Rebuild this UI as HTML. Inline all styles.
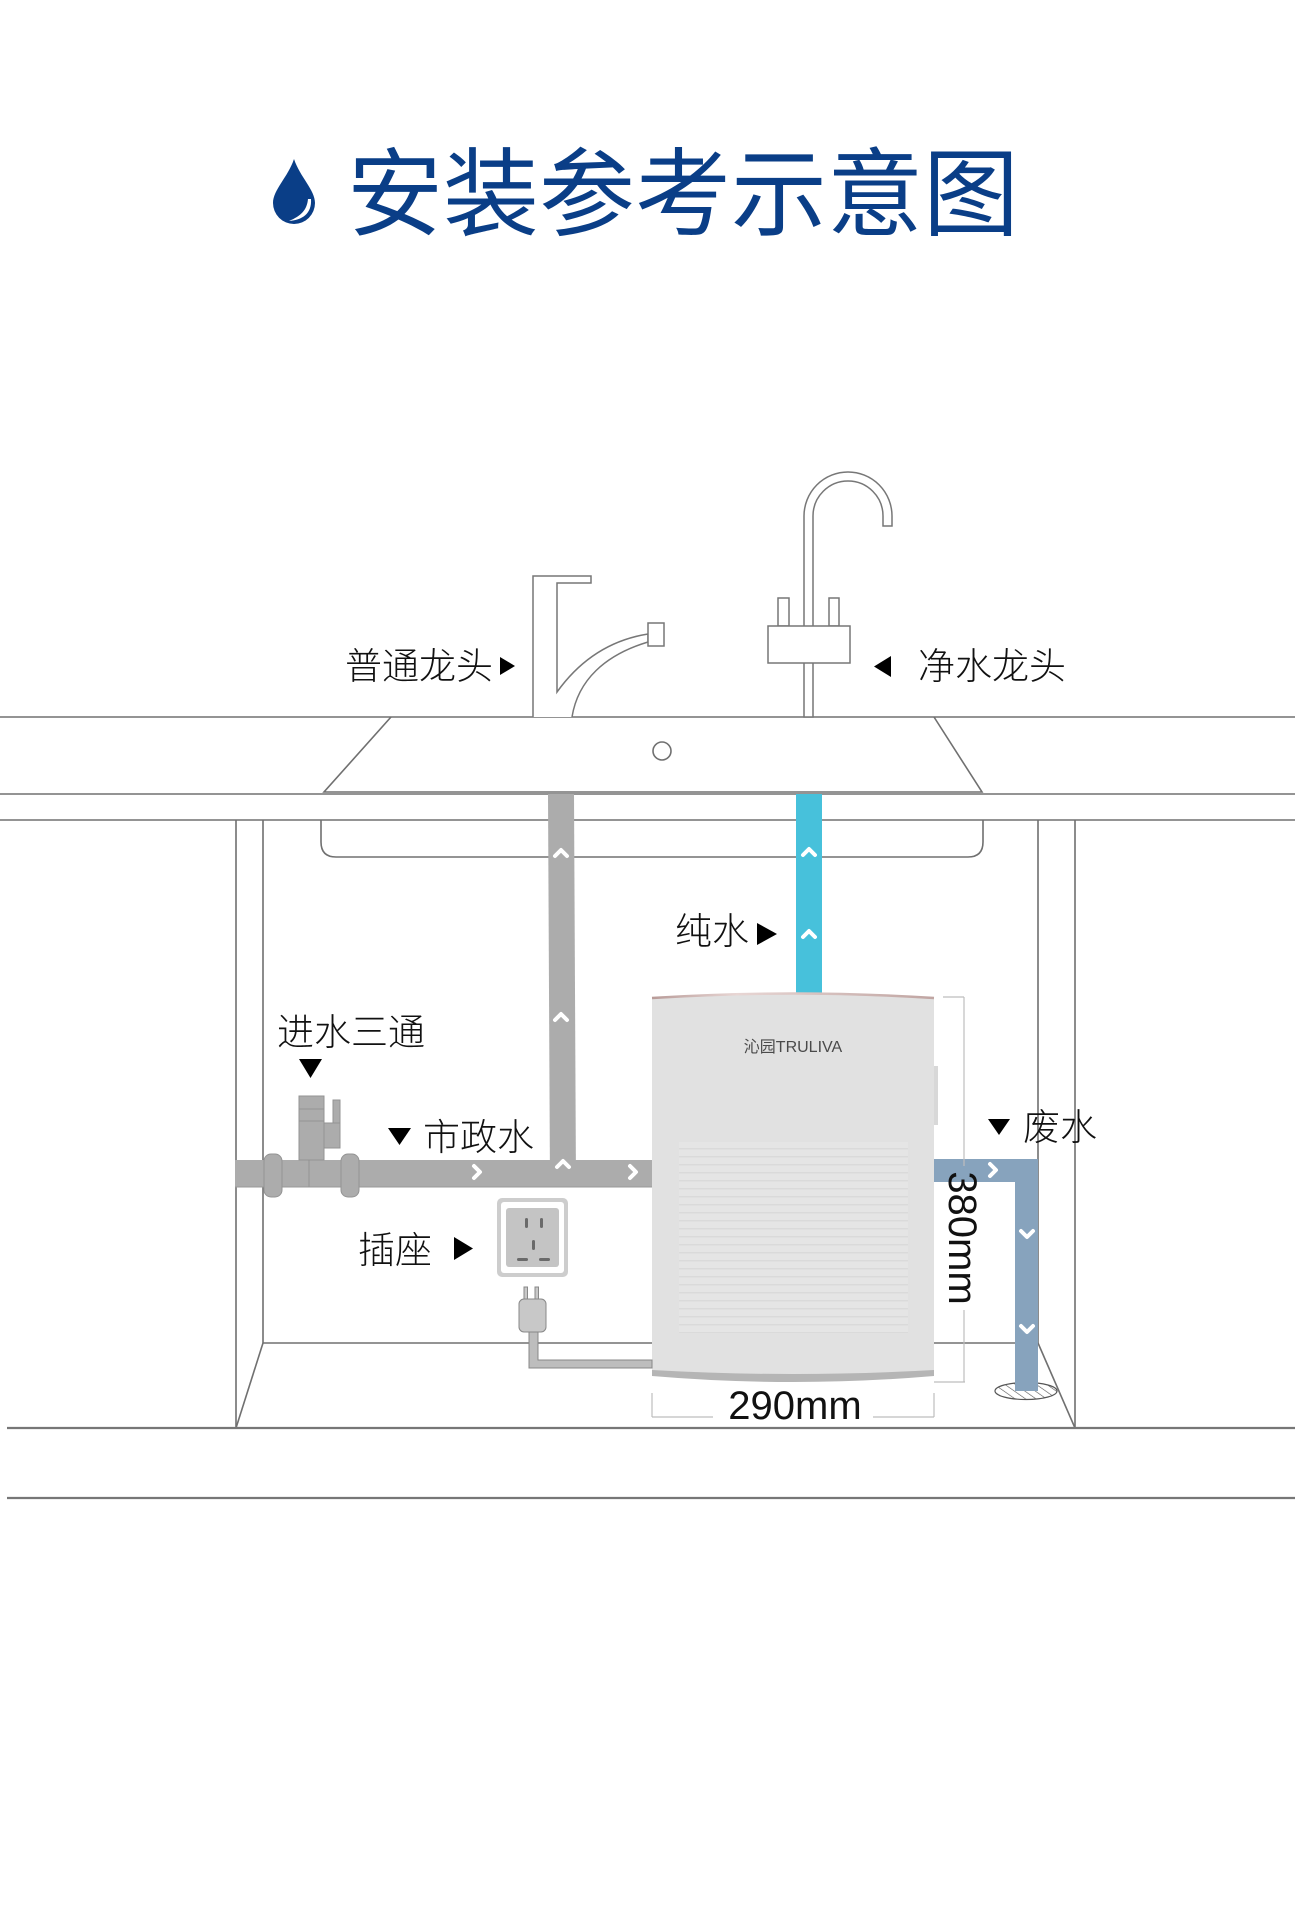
<!DOCTYPE html>
<html>
<head>
<meta charset="utf-8">
<style>
  html,body{margin:0;padding:0;background:#fff;}
  body{width:1295px;height:1920px;overflow:hidden;}
  svg{display:block;}
  .lbl{font-family:"Liberation Sans","Noto Sans CJK SC",sans-serif;font-size:37px;fill:#111;font-weight:300;}
  .dim{font-family:"Liberation Sans","Noto Sans CJK SC",sans-serif;font-size:40px;fill:#111;}
</style>
</head>
<body>
<svg width="1295" height="1920" viewBox="0 0 1295 1920" xmlns="http://www.w3.org/2000/svg">
  <defs>
    <pattern id="grille" x="0" y="1142" width="10" height="8" patternUnits="userSpaceOnUse">
      <rect x="0" y="0" width="10" height="8" fill="#e5e5e5"/>
      <rect x="0" y="6" width="10" height="1.5" fill="#dadada"/>
    </pattern>
    <linearGradient id="topedge" x1="0" x2="1" y1="0" y2="0">
      <stop offset="0" stop-color="#b89b98"/>
      <stop offset="0.3" stop-color="#e8d6d4"/>
      <stop offset="1" stop-color="#c0a5a2"/>
    </linearGradient>
    <pattern id="hatch" width="6" height="6" patternUnits="userSpaceOnUse" patternTransform="rotate(-55)">
      <rect width="6" height="6" fill="#fff"/>
      <line x1="0" y1="0" x2="0" y2="6" stroke="#555" stroke-width="1.2"/>
    </pattern>
  </defs>

  <rect width="1295" height="1920" fill="#fff"/>

  <!-- Title -->
  <path d="M294,159 C288,177 273,190 273,203 A21,21 0 0 0 315,203 C315,190 300,177 294,159 Z" fill="#0a3e87"/>
  <path d="M311,199 C312,214 302,220 289,221 C301,216 307,210 308,199 Z" fill="#fff"/>
  <text x="347" y="228" font-family="'Liberation Sans','Noto Sans CJK SC',sans-serif" font-size="96" font-weight="400" fill="#0a3e87" textLength="672" lengthAdjust="spacingAndGlyphs">安装参考示意图</text>

  <!-- Countertop -->
  <g stroke="#707070" stroke-width="1.6" fill="none">
    <line x1="0" y1="717" x2="1295" y2="717"/>
    <line x1="0" y1="794" x2="1295" y2="794"/>
    <line x1="0" y1="820" x2="1295" y2="820"/>
    <polyline points="391,717 324,792 982,792 934,717"/>
    <path d="M321,820 L321,842 Q321,857 336,857 L968,857 Q983,857 983,842 L983,820"/>
    <ellipse cx="662" cy="751" rx="9" ry="9"/>
  </g>

  <!-- Cabinet -->
  <g stroke="#707070" stroke-width="1.6" fill="none">
    <line x1="236" y1="820" x2="236" y2="1428"/>
    <line x1="263" y1="820" x2="263" y2="1343"/>
    <line x1="263" y1="1343" x2="236" y2="1428"/>
    <line x1="263" y1="1343" x2="1038" y2="1343"/>
    <line x1="1038" y1="820" x2="1038" y2="1343"/>
    <line x1="1038" y1="1343" x2="1075" y2="1428"/>
    <line x1="1075" y1="820" x2="1075" y2="1428"/>
  </g>
  <g stroke="#777" stroke-width="2.2">
    <line x1="7" y1="1428" x2="1295" y2="1428"/>
    <line x1="7" y1="1498" x2="1295" y2="1498"/>
  </g>

  <!-- Ordinary faucet -->
  <g stroke="#777" stroke-width="1.5" fill="#fff">
    <path d="M533,717 L533,576 L591,576 L591,583 L557,583 L557,692 C580,660 610,640 648,634 L648,642 C605,655 578,680 572,717"/>
    <rect x="648" y="623" width="16" height="23"/>
  </g>

  <!-- Pure water faucet -->
  <g stroke="#777" stroke-width="1.5" fill="#fff">
    <path d="M804,717 L804,516 A44,44 0 0 1 892,516 L892,526 L883,526 L883,516 A35,35 0 0 0 813,516 L813,717 Z"/>
    <rect x="778" y="598" width="11" height="28"/>
    <rect x="829" y="598" width="10" height="28"/>
    <rect x="768" y="626" width="82" height="37"/>
  </g>

  <!-- Labels top -->
  <text class="lbl" x="345" y="679">普通龙头</text>
  <polygon points="500,657 515,666 500,675" fill="#000"/>
  <polygon points="891,656 874,666.5 891,677" fill="#000"/>
  <text class="lbl" x="918" y="679">净水龙头</text>

  <!-- Gray pipes -->
  <polygon points="548,794 574,794 576,1187 550,1187" fill="#acacac"/>
  <rect x="235" y="1160" width="417" height="27" fill="#acacac"/>
  <line x1="235" y1="1187" x2="652" y2="1187" stroke="#999" stroke-width="1"/>
  <!-- tee valve -->
  <g fill="#acacac" stroke="#939393" stroke-width="1">
    <rect x="299" y="1096" width="25" height="64"/>
    <line x1="299" y1="1109" x2="324" y2="1109"/>
    <line x1="299" y1="1121" x2="324" y2="1121"/>
    <rect x="333" y="1100" width="7" height="23"/>
    <rect x="324" y="1123" width="16" height="25"/>
    <line x1="309" y1="1160" x2="309" y2="1187"/>
    <rect x="264" y="1154" width="18" height="43" rx="7"/>
    <rect x="341" y="1154" width="18" height="43" rx="7"/>
  </g>

  <!-- Blue pure water pipe -->
  <rect x="796" y="794" width="26" height="202" fill="#47c1db"/>

  <!-- Waste pipe -->
  <path d="M934,1159 L1038,1159 L1038,1391 L1015,1391 L1015,1182 L934,1182 Z" fill="#87a3bd"/>
  <ellipse cx="1026" cy="1391" rx="31" ry="8.5" fill="url(#hatch)" stroke="#555" stroke-width="1.2"/>
  <rect x="1015" y="1330" width="23" height="61" fill="#87a3bd"/>

  <!-- chevrons -->
  <g stroke="#fff" stroke-width="4" fill="none" stroke-linecap="round" stroke-linejoin="round">
    <polyline points="555,856 561,850 567,856"/>
    <polyline points="555,1020 561,1014 567,1020"/>
    <polyline points="557,1167 563,1161 569,1167"/>
    <polyline points="803,855 809,849 815,855"/>
    <polyline points="803,937 809,931 815,937"/>
    <polyline points="474,1166 480,1172 474,1178"/>
    <polyline points="630,1166 636,1172 630,1178"/>
    <polyline points="990,1164 996,1170 990,1176"/>
    <polyline points="1021,1231 1027,1237 1033,1231"/>
    <polyline points="1021,1326 1027,1332 1033,1326"/>
  </g>

  <!-- Unit -->
  <path d="M652,999 Q793,990 934,999 L934,1376 Q793,1388 652,1376 Z" fill="#b5b5b5"/>
  <path d="M652,999 Q793,990 934,999 L934,1370 Q793,1378 652,1370 Z" fill="#e1e1e1"/>
  <path d="M652,998 Q793,989 934,998" stroke="url(#topedge)" stroke-width="2.5" fill="none"/>
  <rect x="934" y="1066" width="4" height="59" fill="#d8d8d8"/>
  <rect x="679" y="1142" width="229" height="191" fill="url(#grille)"/>
  <text x="793" y="1052" text-anchor="middle" font-family="'Liberation Sans','Noto Sans CJK SC',sans-serif" font-size="16" fill="#4a4a4a">沁园TRULIVA</text>

  <!-- Labels middle -->
  <text class="lbl" x="675" y="944">纯水</text>
  <polygon points="757,923 777,934 757,945" fill="#000"/>
  <text class="lbl" x="277" y="1045">进水三通</text>
  <polygon points="299,1059 322,1059 310.5,1078" fill="#000"/>
  <polygon points="388,1128 411,1128 399.5,1145" fill="#000"/>
  <text class="lbl" x="423" y="1150">市政水</text>
  <polygon points="988,1119 1010,1119 999,1135" fill="#000"/>
  <text class="lbl" x="1023" y="1140">废水</text>
  <text class="lbl" x="358" y="1263">插座</text>
  <polygon points="454,1237 473,1248.5 454,1260" fill="#000"/>

  <!-- Socket -->
  <rect x="497" y="1198" width="71" height="79" rx="5" fill="#cdcdcd"/>
  <rect x="501" y="1202" width="63" height="71" rx="3" fill="#fff"/>
  <rect x="506" y="1208" width="53" height="59" rx="3" fill="#c4c4c4"/>
  <g fill="#6a6a6a">
    <rect x="525" y="1218" width="3" height="10" rx="1.5"/>
    <rect x="540" y="1218" width="3" height="10" rx="1.5"/>
    <rect x="532" y="1240" width="3" height="10" rx="1.5"/>
    <rect x="517" y="1258" width="11" height="3" rx="1.5"/>
    <rect x="539" y="1258" width="11" height="3" rx="1.5"/>
  </g>

  <!-- Plug + cable -->
  <path d="M529,1330 L529,1368 L652,1368 L652,1360 L538,1360 L538,1330 Z" fill="#bdbdbd" stroke="#888" stroke-width="1"/>
  <g fill="#c8c8c8" stroke="#888" stroke-width="1">
    <rect x="524" y="1287" width="3.5" height="12"/>
    <rect x="535" y="1287" width="3.5" height="12"/>
    <rect x="519" y="1299" width="27" height="33" rx="5"/>
  </g>

  <!-- Dimension 380mm / 290mm -->
  <g stroke="#bdbdbd" stroke-width="1.2" fill="none">
    <line x1="943" y1="997" x2="964" y2="997"/>
    <line x1="964" y1="997" x2="964" y2="1166"/>
    <line x1="964" y1="1310" x2="964" y2="1382"/>
    <line x1="934" y1="1382" x2="965" y2="1382"/>
    <line x1="652" y1="1393" x2="652" y2="1417"/>
    <line x1="934" y1="1393" x2="934" y2="1417"/>
    <line x1="652" y1="1417" x2="713" y2="1417"/>
    <line x1="873" y1="1417" x2="934" y2="1417"/>
  </g>
  <text class="dim" transform="translate(949,1238) rotate(90)" text-anchor="middle">380mm</text>
  <text class="dim" x="795" y="1419" text-anchor="middle">290mm</text>
</svg>
</body>
</html>
